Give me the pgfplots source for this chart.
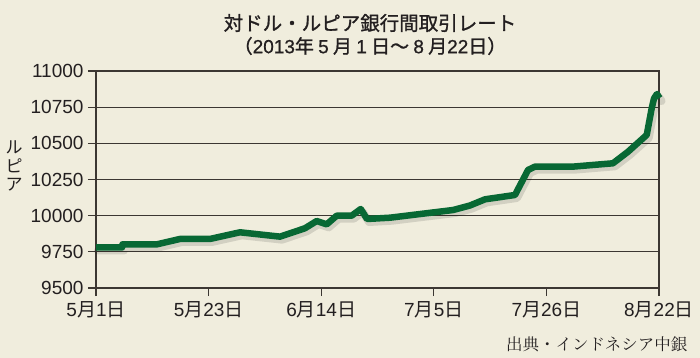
\documentclass[border=0pt]{standalone}
\usepackage{fontspec}
\setmainfont{Liberation Sans}
\newfontfamily\jp{Noto Sans CJK JP}
\newfontfamily\jpb[FakeBold=1.2]{Noto Sans CJK JP}
\newfontfamily\numb[FakeBold=0.8]{Liberation Sans}
\newfontfamily\jps{Noto Serif CJK JP}
\usepackage{pgfplots}
\pgfplotsset{compat=1.18}
\definecolor{bg}{RGB}{240,237,221}
\definecolor{gridc}{RGB}{60,55,50}
\definecolor{lgreen}{RGB}{8,104,52}
\definecolor{txt}{RGB}{35,31,32}
\begin{document}
\begin{tikzpicture}
\fill[bg] (0,0) rectangle (700pt,358pt);
\useasboundingbox (0,0) rectangle (700pt,358pt);
\begin{axis}[
  at={(96pt,70pt)}, anchor=south west,
  scale only axis, width=563pt, height=217pt,
  xmin=0, xmax=5, ymin=9500, ymax=11000,
  clip=false,
  axis line style={gridc, line width=1.3pt},
  xtick={0,1,2,3,4,5},
  xticklabels={5{\jp 月}1{\jp 日},5{\jp 月}23{\jp 日},6{\jp 月}14{\jp 日},7{\jp 月}5{\jp 日},7{\jp 月}26{\jp 日},8{\jp 月}22{\jp 日}},
  ytick={9500,9750,10000,10250,10500,10750,11000},
  ymajorgrids, grid style={gridc, line width=1.3pt},
  tick pos=left, tick align=outside,
  major tick length=8pt,
  tick style={gridc, line width=1.3pt},
  scaled ticks=false,
  /pgf/number format/.cd, 1000 sep={}, assume math mode=true,
  /pgfplots/.cd,
  ticklabel style={font=\fontsize{19}{21}\selectfont, text=txt},
  yticklabel style={xshift=-1pt},
  xticklabel style={yshift=-2pt},
]
\addplot[black, opacity=0.12, line width=8pt, line join=round, line cap=round, shift={(2pt,-3pt)}] coordinates {
(0.000,9780) (0.231,9780) (0.235,9802) (0.542,9802) (0.746,9839) (1.012,9839)
(1.279,9885) (1.634,9855) (1.856,9913) (1.960,9963) (2.049,9940) (2.138,10000)
(2.271,10000) (2.351,10046) (2.407,9977) (2.611,9986) (3.171,10039) (3.320,10070)
(3.455,10113) (3.721,10143) (3.837,10316) (3.899,10339) (4.236,10339) (4.591,10362)
(4.725,10442) (4.891,10558) (4.935,10742) (4.956,10811) (4.982,10841) (5.005,10813)
};
\addplot[lgreen, line width=6.5pt, line join=round] coordinates {
(0.000,9780) (0.231,9780) (0.235,9802) (0.542,9802) (0.746,9839) (1.012,9839)
(1.279,9885) (1.634,9855) (1.856,9913) (1.960,9963) (2.049,9940) (2.138,10000)
(2.271,10000) (2.351,10046) (2.407,9977) (2.611,9986) (3.171,10039) (3.320,10070)
(3.455,10113) (3.721,10143) (3.837,10316) (3.899,10339) (4.236,10339) (4.591,10362)
(4.725,10442) (4.891,10558) (4.935,10742) (4.956,10811) (4.982,10841) (5.005,10813)
};
\end{axis}
\node[text=txt, font=\jpb\fontsize{19.5}{21}\selectfont] at (370pt,335pt) {対ドル・ルピア銀行間取引レート};
\node[text=txt, font=\jpb\fontsize{19}{21}\selectfont] at (370pt,312pt) {（{\numb 2013}年 {\numb 5} 月 {\numb 1} 日～ {\numb 8} 月{\numb 22}日）};
\node[text=txt, font=\jp\fontsize{17}{18.5}\selectfont, align=center] at (14pt,192pt) {ル\\ピ\\ア};
\node[text=txt, font=\jps\fontsize{16.5}{18}\selectfont, anchor=east] at (691pt,13pt) {出典・インドネシア中銀};
\end{tikzpicture}
\end{document}
